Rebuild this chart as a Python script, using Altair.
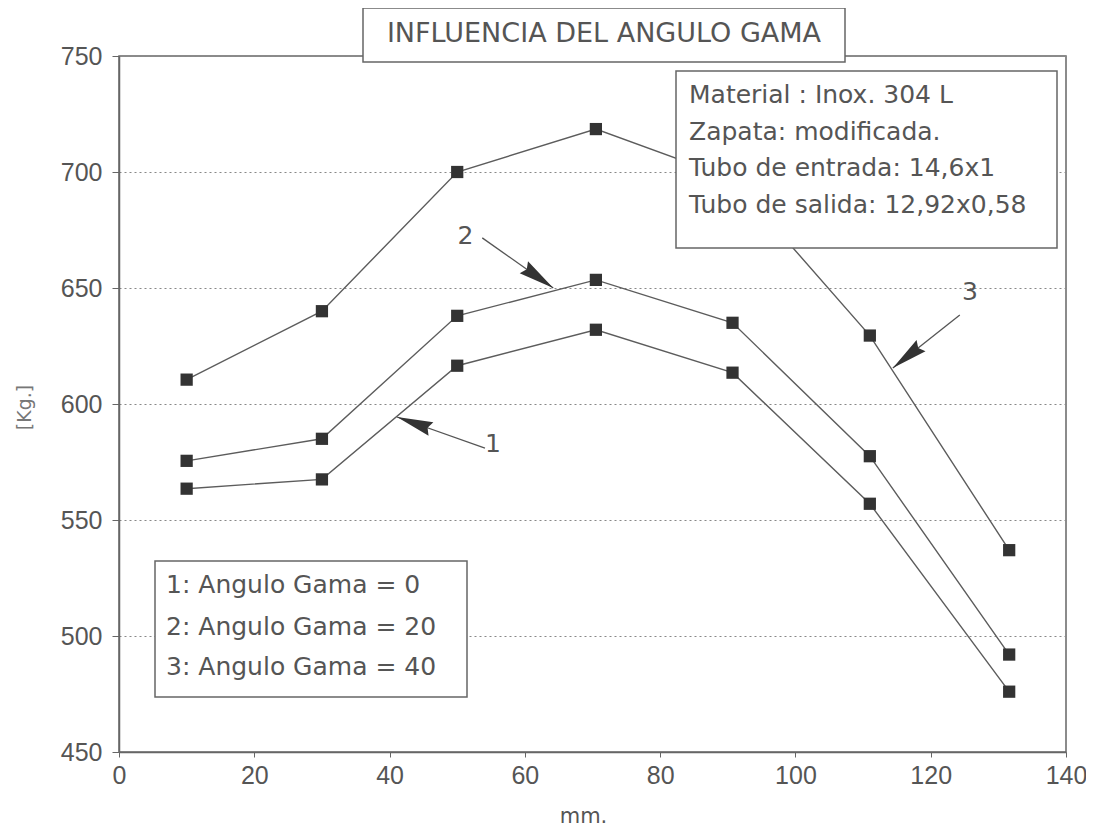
import math
import altair as alt
import pandas as pd

# ---- data ----
x_mm = [10, 30, 50, 70.5, 90.7, 111, 131.6]
kg_gama0 = [563.5, 567.5, 616.5, 632.0, 613.5, 557.0, 476.0]
kg_gama20 = [575.5, 585.0, 638.0, 653.5, 635.0, 577.5, 492.0]
kg_gama40 = [610.5, 640.0, 700.0, 718.5, 697.0, 629.5, 537.0]
series_names = ["1", "2", "3"]

x_ticks = [0, 20, 40, 60, 80, 100, 120, 140]
y_ticks = [450, 500, 550, 600, 650, 700, 750]

title_text = "INFLUENCIA DEL ANGULO GAMA"
info_lines = [
    "Material : Inox. 304 L",
    "Zapata: modificada.",
    "Tubo de entrada: 14,6x1",
    "Tubo de salida: 12,92x0,58",
]
legend_lines = [
    "1: Angulo Gama = 0",
    "2: Angulo Gama = 20",
    "3: Angulo Gama = 40",
]

# arrow annotations (data units)
arrow_labels = ["1", "2", "3"]
arrow_label_x = [55.3, 51.2, 125.8]
arrow_label_y = [582.8, 672.4, 648.3]
arrow_start_x = [54.1, 53.7, 124.3]
arrow_start_y = [581.0, 671.6, 638.4]
arrow_tip_x = [41.1, 64.2, 114.4]
arrow_tip_y = [594.4, 650.0, 615.5]

# ---- layout ----
W, H = 947, 696
XMIN, XMAX, YMIN, YMAX = 0, 140, 450, 750
TXT = "#555555"
FONT_TICK = "Liberation Sans"
FONT_TXT = "DejaVu Sans"

rows = []
for name, vals in zip(series_names, [kg_gama0, kg_gama20, kg_gama40]):
    for xv, yv in zip(x_mm, vals):
        rows.append({"serie": name, "mm": xv, "kg": yv})
df = pd.DataFrame(rows)

xs = alt.Scale(domain=[XMIN, XMAX], nice=False, zero=False)
ys = alt.Scale(domain=[YMIN, YMAX], nice=False, zero=False)

x_axis = alt.Axis(values=x_ticks, title="mm.", grid=False, tickSize=5, labelPadding=6,
                  labelFlush=False, labelOverlap=False, labelFont=FONT_TICK, labelFontSize=25,
                  labelColor=TXT, tickColor="#666", domainColor="#666", domainWidth=1.5,
                  titleFont=FONT_TXT, titleFontSize=21, titleFontWeight="normal", titleColor=TXT,
                  titleX=464, titleY=64, titleAlign="center", titleBaseline="middle")
y_axis = alt.Axis(values=y_ticks, title="[Kg.]", grid=True, gridDash=[2, 3], gridColor="#888",
                  gridWidth=1, tickSize=7, labelPadding=10, labelFlush=False, labelOverlap=False,
                  labelFont=FONT_TICK, labelFontSize=25, labelColor=TXT, tickColor="#666",
                  domainColor="#666", domainWidth=1.5,
                  titleFont=FONT_TXT, titleFontSize=19, titleFontWeight="normal", titleColor="#777",
                  titleX=-95, titleY=351, titleAlign="center", titleBaseline="middle", titleAngle=270)

lines = alt.Chart(df).mark_line(color="#5c5c5c", strokeWidth=1.4).encode(
    x=alt.X("mm:Q", scale=xs, axis=x_axis),
    y=alt.Y("kg:Q", scale=ys, axis=y_axis),
    detail="serie:N",
)
points = alt.Chart(df).mark_point(shape="square", filled=True, size=150, color="#333333",
                                  opacity=1).encode(x=alt.X("mm:Q", scale=xs), y=alt.Y("kg:Q", scale=ys))

# arrows
def to_px(x, y):
    return (x - XMIN) * W / (XMAX - XMIN), (YMAX - y) * H / (YMAX - YMIN)

def to_data(px, py):
    return XMIN + px * (XMAX - XMIN) / W, YMAX - py * (YMAX - YMIN) / H

head_len = 36
arows = []
for i in range(len(arrow_labels)):
    sx, sy = to_px(arrow_start_x[i], arrow_start_y[i])
    tx, ty = to_px(arrow_tip_x[i], arrow_tip_y[i])
    dx, dy = tx - sx, ty - sy
    L = math.hypot(dx, dy)
    ux, uy = dx / L, dy / L
    cx, cy = to_data(tx - ux * head_len / 2, ty - uy * head_len / 2)
    ang = math.degrees(math.atan2(ux, -uy)) % 360
    arows.append({"lab": arrow_labels[i], "lx": arrow_label_x[i], "ly": arrow_label_y[i],
                  "sx": arrow_start_x[i], "sy": arrow_start_y[i],
                  "tx": arrow_tip_x[i], "ty": arrow_tip_y[i],
                  "cx": cx, "cy": cy, "ang": ang})
adf = pd.DataFrame(arows)

shafts = alt.Chart(adf).mark_rule(color="#555", strokeWidth=1.3).encode(
    x=alt.X("sx:Q", scale=xs), y=alt.Y("sy:Q", scale=ys), x2="tx:Q", y2="ty:Q")
heads = alt.Chart(adf).mark_point(shape="M0,-1L0.4,1L0,0.8L-0.4,1Z", filled=True, size=head_len ** 2,
                                  color="#333333", opacity=1).encode(
    x=alt.X("cx:Q", scale=xs), y=alt.Y("cy:Q", scale=ys), angle=alt.Angle("ang:Q", scale=None))
alabels = alt.Chart(adf).mark_text(font=FONT_TXT, fontSize=25, color=TXT, align="center",
                                   baseline="middle").encode(
    x=alt.X("lx:Q", scale=xs), y=alt.Y("ly:Q", scale=ys), text="lab:N")

one = pd.DataFrame({"k": [0]})

def box(x1, y1, x2, y2):
    return alt.Chart(one).mark_rect(fill="white", stroke="#666", strokeWidth=1.5).encode(
        x=alt.value(x1), x2=alt.value(x2), y=alt.value(y1), y2=alt.value(y2))

def label(txt, x, y, size, align="left"):
    return alt.Chart(one).mark_text(text=txt, font=FONT_TXT, fontSize=size, color=TXT,
                                    align=align, baseline="middle").encode(
        x=alt.value(x), y=alt.value(y))

layers = [lines, points, shafts, heads, alabels]
layers.append(box(244, -48, 726, 6))
layers.append(label(title_text, 485, -22, 27, align="center"))
layers.append(box(557, 15, 938, 192))
for txt, yy in zip(info_lines, [39, 76, 112, 149]):
    layers.append(label(txt, 570, yy, 25))
layers.append(box(36, 505, 348, 641))
for txt, yy in zip(legend_lines, [529, 571, 611]):
    layers.append(label(txt, 47, yy, 25))

chart = alt.layer(*layers).properties(
    width=W, height=H,
    autosize=alt.AutoSizeParams(type="none"),
    padding={"left": 111, "top": 48, "right": 20, "bottom": 80},
).configure_view(stroke="#666", strokeWidth=1.5)

chart.save("out.html", embed_options={"renderer": "svg", "actions": False})
